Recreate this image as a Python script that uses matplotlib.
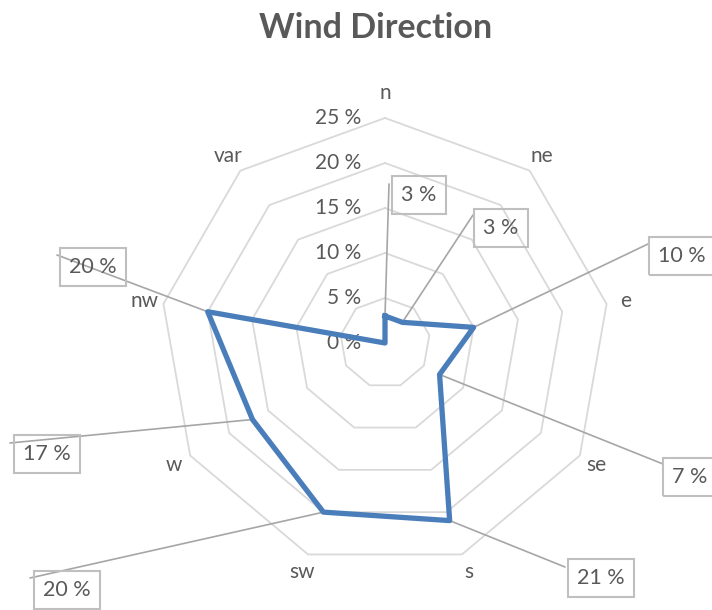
import numpy as np
import matplotlib
matplotlib.use("Agg")
import matplotlib.pyplot as plt

categories = ["n", "ne", "e", "se", "s", "sw", "w", "nw", "var"]
values = [3, 3, 10, 7, 21, 20, 17, 20, 0]
label_texts = ["3 %", "3 %", "10 %", "7 %", "21 %", "20 %", "17 %", "20 %", None]
ring_values = [0, 5, 10, 15, 20, 25]
ring_labels = ["0 %", "5 %", "10 %", "15 %", "20 %", "25 %"]

# layout (figure pixel positions of data label boxes and leader-line ends, ref coords y-down)
label_box_px = [(419, 195), (501, 228), (682, 256), (690, 477), (601, 578),
                (67, 590), (47, 454), (93, 267), None]
leader_end_px = [(389, 184), (473, 215), (648, 244), (663, 464), (565, 567),
                 (30, 578), (10, 443), (57, 255), None]

W, H = 712, 610
TEXT = "#595959"
GRID = "#d9d9d9"
LEAD = "#a6a6a6"
BOX = "#bfbfbf"
BLUE = "#4A7EBB"
FONT = ["Lato", "DejaVu Sans"]
plt.rcParams["font.family"] = FONT

fig = plt.figure(figsize=(W / 100, H / 100), dpi=100)
cx, cy, R = 385, 343, 225
ax = fig.add_axes([(cx - R) / W, (H - cy - R) / H, 2 * R / W, 2 * R / H], projection="polar")
ax.set_theta_zero_location("N")
ax.set_theta_direction(-1)
ax.set_ylim(0, 25)
ax.grid(False)
ax.set_xticks([])
ax.set_yticks([])
ax.spines["polar"].set_visible(False)
ax.patch.set_visible(False)

n = len(categories)
theta = np.arange(n) * 2 * np.pi / n
theta_closed = np.append(theta, theta[0])

for rv in ring_values[1:]:
    ax.plot(theta_closed, [rv] * (n + 1), color=GRID, lw=1.3, zorder=1, clip_on=False)

for rv, rl in zip(ring_values, ring_labels):
    ax.annotate(rl, xy=(0, rv), xytext=(-17, 0), textcoords="offset points",
                ha="right", va="center", fontsize=15, color=TEXT, annotation_clip=False)

for t, c in zip(theta, categories):
    r = 27.8 if c in ("n",) else 27.1
    ax.text(t, r, c, ha="center", va="center", fontsize=15, color=TEXT, clip_on=False)

vals_closed = values + [values[0]]
ax.plot(theta_closed, vals_closed, color=BLUE, lw=3.8, zorder=5, clip_on=False)

for t, v, txt, box, end in zip(theta, values, label_texts, label_box_px, leader_end_px):
    if txt is None:
        continue
    ax.annotate("", xy=(t, v), xytext=(end[0], H - end[1]), textcoords="figure pixels",
                arrowprops=dict(arrowstyle="-", color=LEAD, lw=1.2, shrinkA=0, shrinkB=0),
                annotation_clip=False, zorder=3)
    ax.annotate(txt, xy=(t, v), xytext=(box[0], H - box[1]), textcoords="figure pixels",
                ha="center", va="center", fontsize=15.5, color=TEXT, annotation_clip=False,
                bbox=dict(boxstyle="square,pad=0.42", fc="none", ec=BOX, lw=1.5), zorder=4)

fig.text(376 / W, 1 - 28 / H, "Wind Direction", ha="center", va="center",
         fontsize=24.5, fontweight="bold", color=TEXT)

fig.savefig("out.png", dpi=100)
